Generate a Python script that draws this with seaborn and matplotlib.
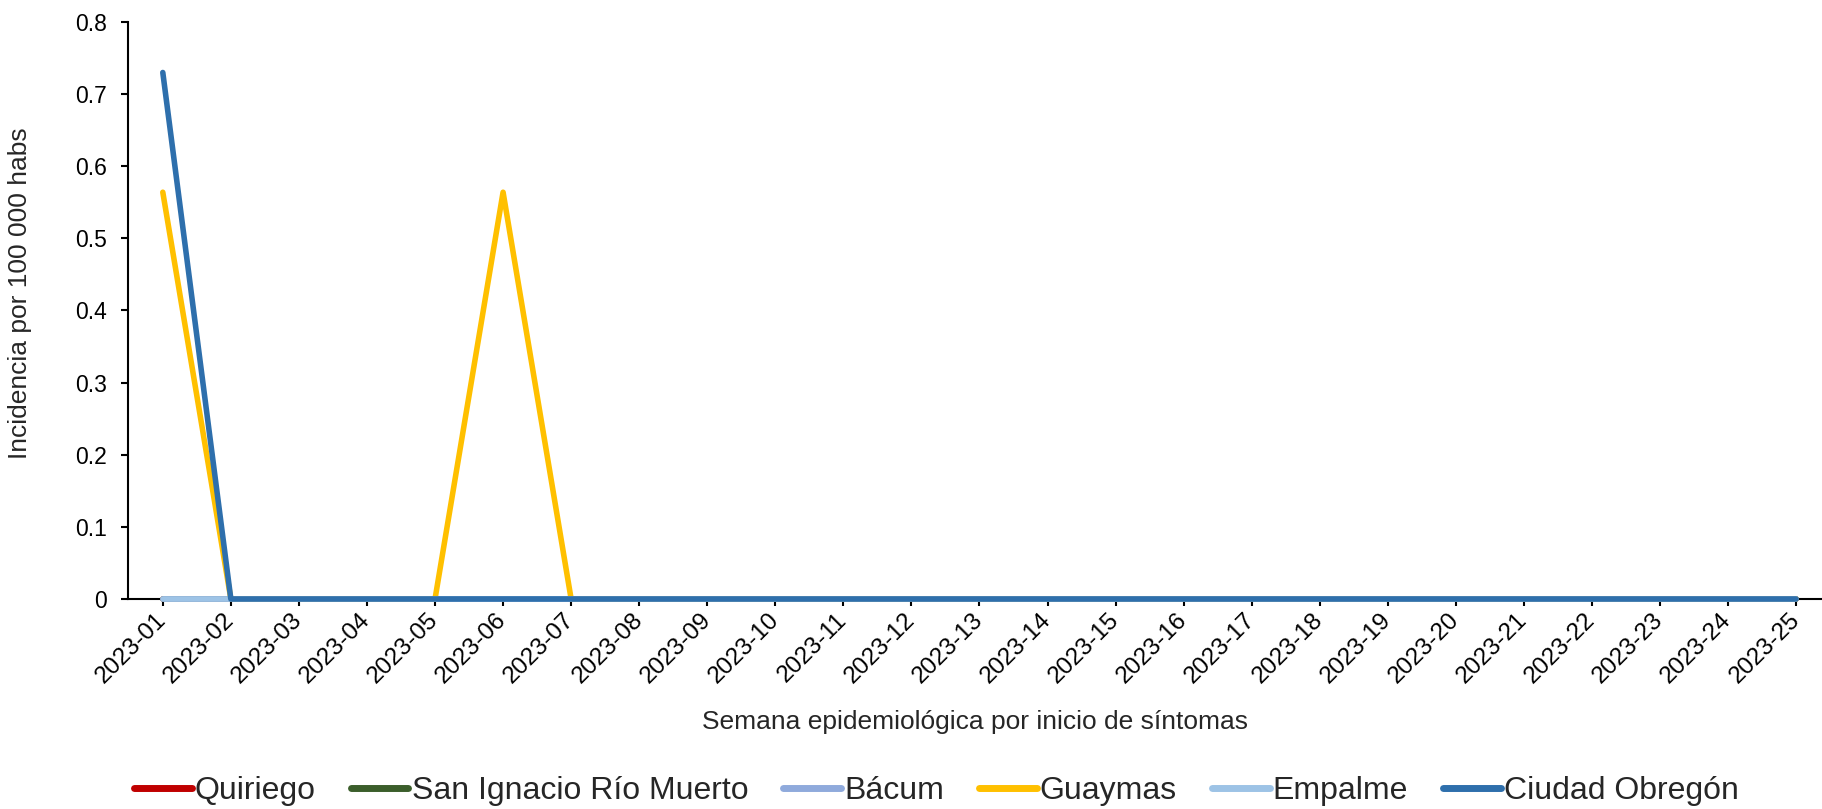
import pandas as pd
import matplotlib.pyplot as plt
import seaborn as sns

# datos
semanas = [f'2023-{i:02d}' for i in range(1, 26)]
quiriego = [0.0] * 25
san_ignacio = [0.0] * 25
bacum = [0.0] * 25
guaymas = [0.564, 0, 0, 0, 0, 0.564] + [0.0] * 19
empalme = [0.0] * 25
obregon = [0.730] + [0.0] * 24

series = {
    'Quiriego': quiriego,
    'San Ignacio Río Muerto': san_ignacio,
    'Bácum': bacum,
    'Guaymas': guaymas,
    'Empalme': empalme,
    'Ciudad Obregón': obregon,
}
colores = ['#C00000', '#3B5E2B', '#8FAADC', '#FFC000', '#9DC3E6', '#2E6FAC']

df = pd.concat([
    pd.DataFrame({'semana': semanas, 'x': range(len(semanas)), 'valor': v, 'mun': k})
    for k, v in series.items()
])

sns.set_theme(style='white')
plt.rcParams['font.family'] = ['Liberation Sans', 'DejaVu Sans']

fig = plt.figure(figsize=(18.22, 8.09), dpi=100)
ax = fig.add_axes([0.0703, 0.2596, 0.9297, 0.7132])

sns.lineplot(data=df, x='x', y='valor', hue='mun', palette=colores,
             linewidth=4, ax=ax, legend=True, sort=False,
             clip_on=False, zorder=3)

ax.set_xlim(-0.51, 24.38)
ax.set_ylim(0, 0.8)
ax.set_yticks([0, 0.1, 0.2, 0.3, 0.4, 0.5, 0.6, 0.7, 0.8])
ax.set_yticklabels(['0', '0.1', '0.2', '0.3', '0.4', '0.5', '0.6', '0.7', '0.8'])
ax.set_xticks(range(len(semanas)))
ax.set_xticklabels(semanas, rotation=45, ha='right', va='center',
                   rotation_mode='anchor')
ax.tick_params(axis='both', colors='black', direction='out',
               length=5, width=1.5, bottom=True, left=True)
ax.tick_params(axis='y', pad=10, labelsize=16.5)
ax.tick_params(axis='x', pad=8, labelsize=17.5)

for s in ['top', 'right']:
    ax.spines[s].set_visible(False)
for s in ['left', 'bottom']:
    ax.spines[s].set_color('black')
    ax.spines[s].set_linewidth(1.5)

ax.set_xlabel('Semana epidemiológica por inicio de síntomas', fontsize=19)
ax.set_ylabel('Incidencia por 100 000 habs', fontsize=19)
ax.xaxis.set_label_coords(0.5, -0.192)
ax.yaxis.set_label_coords(-0.057, 0.53)

handles, labels = ax.get_legend_handles_labels()
for h in handles:
    h.set_linewidth(5)
fig.legend(handles, labels, loc='center', bbox_to_anchor=(0.514, 0.022),
           ncol=6, frameon=False, fontsize=23, handlelength=1.8,
           handletextpad=0.1, columnspacing=1.1, borderpad=0)
ax.get_legend().remove()

fig.savefig('out.png', dpi=100)
